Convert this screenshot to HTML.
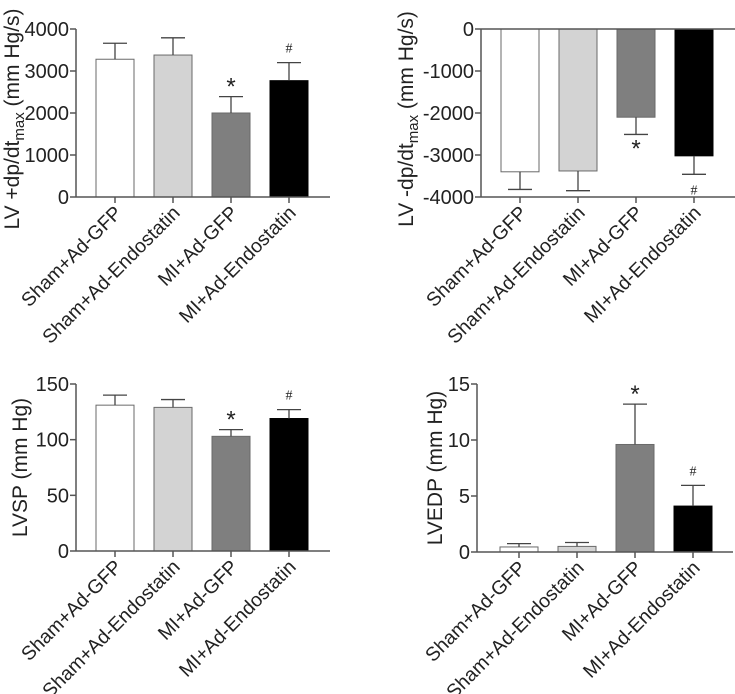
<!DOCTYPE html>
<html><head><meta charset="utf-8"><style>
body{margin:0;background:#fff;}
svg{display:block;font-family:"Liberation Sans",Arial,sans-serif;}
</style></head><body>
<svg id="fig" width="735" height="694" viewBox="0 0 735 694" xmlns="http://www.w3.org/2000/svg"></svg>
<script>
const categories = ["Sham+Ad-GFP","Sham+Ad-Endostatin","MI+Ad-GFP","MI+Ad-Endostatin"];
const fills = ["#ffffff","#d3d3d3","#7f7f7f","#000000"];
const plusValues = [3280, 3380, 2000, 2770];
const plusErrors = [3660, 3790, 2390, 3200];
const plusTicks = [0, 1000, 2000, 3000, 4000];
const plusMarks = ["", "", "*", "#"];
const minusValues = [-3400, -3380, -2100, -3020];
const minusErrors = [-3820, -3850, -2510, -3460];
const minusTicks = [0, -1000, -2000, -3000, -4000];
const minusMarks = ["", "", "*", "#"];
const lvspValues = [131, 129, 103, 119];
const lvspErrors = [140, 136, 109, 127];
const lvspTicks = [0, 50, 100, 150];
const lvspMarks = ["", "", "*", "#"];
const lvedpValues = [0.45, 0.5, 9.6, 4.1];
const lvedpErrors = [0.75, 0.85, 13.2, 5.95];
const lvedpTicks = [0, 5, 10, 15];
const lvedpMarks = ["", "", "*", "#"];

const NS = "http://www.w3.org/2000/svg";
const svg = document.getElementById("fig");
function mk(tag, attrs, parent, text){
  const e = document.createElementNS(NS, tag);
  for (const k in attrs) e.setAttribute(k, attrs[k]);
  if (text !== undefined) e.textContent = text;
  (parent || svg).appendChild(e);
  return e;
}
function panel(p){
  const g = mk("g", {});
  
  
  const y = v => p.y0 + (v - p.vmin) / (p.vmax - p.vmin) * (p.y1 - p.y0);
  const x = i => p.xb + i * 58;
  const zeroY = y(0);
  p.values.forEach((v, i) => {
    const top = Math.min(y(v), zeroY), h = Math.abs(y(v) - zeroY);
    const r = mk("rect", {x: x(i) - 19, y: top, width: 38, height: h, fill: fills[i], stroke: i === 3 ? "#000" : "#6a6a6a", "stroke-width": 1}, g);
    
    
    const e = p.errors[i];
    const eb = mk("path", {d: `M${x(i)},${y(v)}V${y(e)}M${x(i)-12},${y(e)}H${x(i)+12}`, stroke: "#444", "stroke-width": 1.3, fill: "none"}, g);
    
    
    if (p.marks[i]) {
      const up = p.errors[i] >= p.values[i];
      const isStar = p.marks[i] === "*";
      const ty = up ? y(e) - (isStar ? 2 : 10) : y(e) + (isStar ? 22 : 20);
      const t = mk("text", {x: x(i), y: ty, "text-anchor": "middle", "font-size": isStar ? 24 : 14, "font-family": isStar ? "Liberation Sans, sans-serif" : "Liberation Serif, serif", fill: "#222"}, g, p.marks[i]);
      
      
    }
  });
  const ya = mk("path", {d: `M${p.ax},${y(p.vmin)}V${y(p.vmax)}`, stroke: "#555", "stroke-width": 1.5, fill: "none"}, g);
  
  
  p.ticks.forEach(t => {
    mk("path", {d: `M${p.ax-6},${y(t)}H${p.ax}`, stroke: "#555", "stroke-width": 1.5}, g);
    const tl = mk("text", {x: p.ax - 7, y: y(t) + 7, "text-anchor": "end", "font-size": 20, fill: "#222"}, g, String(t));
    
    
  });
  const xa = mk("path", {d: `M${p.ax},${zeroY}H${p.xend}`, stroke: "#555", "stroke-width": 1.5, fill: "none"}, g);
  
  
  const catY = p.catAxisY !== undefined ? p.catAxisY : zeroY;
  if (p.catAxisY !== undefined) mk("path", {d: `M${p.ax},${catY}H${p.xend}`, stroke: "#555", "stroke-width": 1.5}, g);
  categories.forEach((c, i) => {
    mk("path", {d: `M${x(i)},${catY}V${catY+6}`, stroke: "#555", "stroke-width": 1.5}, g);
    const t = mk("text", {x: x(i) + 8, y: catY + 17, "text-anchor": "end", "font-size": 19.5, fill: "#222", transform: `rotate(-45 ${x(i)+8} ${catY+17})`}, g, c);
    
    
  });
  const mid = (y(p.vmin) + y(p.vmax)) / 2 + p.titleShift;
  const tt = mk("text", {x: p.titleX, y: mid, "text-anchor": "middle", "font-size": 21, fill: "#222", transform: `rotate(-90 ${p.titleX} ${mid})`}, g);
  
  
  p.title(tt);
}
function plain(s){ return t => { t.textContent = s; }; }
function dpdt(prefix){ return t => {
  mk("tspan", {}, t, prefix);
  mk("tspan", {"font-size": 15, dy: 5}, t, "max");
  mk("tspan", {dy: -5}, t, " (mm Hg/s)");
}; }
panel({name:"panel-lv-plus-dpdt", values:plusValues, errors:plusErrors, ticks:plusTicks, marks:plusMarks, vmin:0, vmax:4000, y0:197, y1:29, ax:76, xb:115, xend:330, titleX:19, titleShift:6, title:dpdt("LV +dp/dt")});
panel({name:"panel-lv-minus-dpdt", values:minusValues, errors:minusErrors, ticks:minusTicks, marks:minusMarks, vmin:-4000, vmax:0, y0:197, y1:29, ax:481, xb:520, xend:735, catAxisY:197, titleX:413, titleShift:6, title:dpdt("LV -dp/dt")});
panel({name:"panel-lvsp", values:lvspValues, errors:lvspErrors, ticks:lvspTicks, marks:lvspMarks, vmin:0, vmax:150, y0:551, y1:384, ax:76, xb:115, xend:330, titleX:27, titleShift:0, title:plain("LVSP (mm Hg)")});
panel({name:"panel-lvedp", values:lvedpValues, errors:lvedpErrors, ticks:lvedpTicks, marks:lvedpMarks, vmin:0, vmax:15, y0:552, y1:384, ax:477, xb:519, xend:733, titleX:442, titleShift:0, title:plain("LVEDP (mm Hg)")});
</script>
</body></html>
